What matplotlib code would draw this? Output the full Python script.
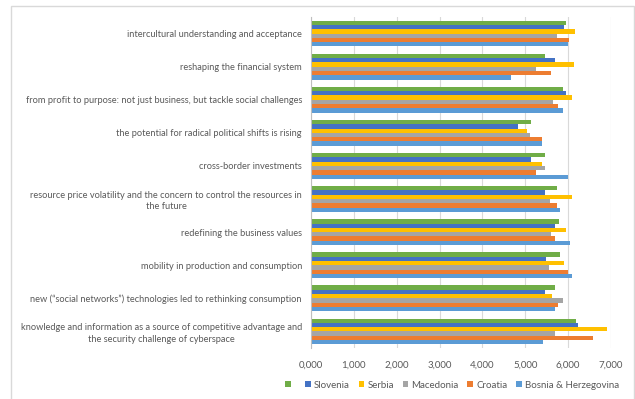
import numpy as np
import matplotlib
matplotlib.use("Agg")
import matplotlib.pyplot as plt
from matplotlib.patches import Rectangle

# Categories, top to bottom as shown
categories = [
    "intercultural understanding and acceptance",
    "reshaping the financial system",
    "from profit to purpose: not just business, but tackle social challenges",
    "the potential for radical political shifts is rising",
    "cross-border investments",
    "resource price volatility and the concern to control the resources in\nthe future",
    "redefining the business values",
    "mobility in production and consumption",
    "new (\u201csocial networks\u201d) technologies led to rethinking consumption",
    "knowledge and information as a source of competitive advantage and\nthe security challenge of cyberspace",
]

series_names = ["", "Slovenia", "Serbia", "Macedonia", "Croatia", "Bosnia & Herzegovina"]
colors = ["#70AD47", "#4472C4", "#FFC000", "#A5A5A5", "#ED7D31", "#5B9BD5"]

unnamed = [5.96, 5.47, 5.87, 5.14, 5.45, 5.73, 5.79, 5.80, 5.69, 6.18]
slovenia = [5.90, 5.70, 5.94, 4.83, 5.14, 5.47, 5.69, 5.49, 5.45, 6.23]
serbia = [6.17, 6.13, 6.09, 5.05, 5.40, 6.10, 5.96, 5.90, 5.63, 6.91]
macedonia = [5.73, 5.24, 5.65, 5.12, 5.45, 5.57, 5.59, 5.55, 5.88, 5.70]
croatia = [6.01, 5.61, 5.77, 5.40, 5.26, 5.73, 5.69, 6.00, 5.77, 6.57]
bosnia = [5.99, 4.66, 5.87, 5.38, 5.99, 5.80, 6.04, 6.10, 5.70, 5.42]

all_series = [unnamed, slovenia, serbia, macedonia, croatia, bosnia]

text_color = "#595959"
plt.rcParams["font.family"] = ["Lato", "DejaVu Sans"]

fig = plt.figure(figsize=(6.35, 3.99), dpi=100)
ax = fig.add_axes([311 / 635, 1 - 348 / 399, 300 / 635, 331 / 399])

n_cat = len(categories)
n_ser = len(all_series)
bar_h = 0.13
y_base = np.arange(n_cat)  # 0 = top category (axis inverted)

for i, (vals, name, col) in enumerate(zip(all_series, series_names, colors)):
    offs = (i - (n_ser - 1) / 2) * bar_h
    ax.barh(y_base + offs, vals, height=bar_h, color=col, label=name if name else " ")

ax.set_ylim(n_cat - 0.5, -0.5)
ax.set_xlim(0, 7)
ax.set_xticks(np.arange(0, 8, 1))
ax.set_xticklabels([f"{v},000" for v in range(8)])
ax.set_yticks(y_base)
ax.set_yticklabels(categories, ha="right", multialignment="center", linespacing=1.3)

ax.tick_params(axis="both", length=0, labelsize=7, colors=text_color)
ax.tick_params(axis="y", pad=6.5, labelsize=6.7)
ax.tick_params(axis="x", pad=9)
ax.grid(axis="x", color="#D9D9D9", linewidth=0.8)
ax.set_axisbelow(True)
for side in ["top", "right", "bottom"]:
    ax.spines[side].set_visible(False)
ax.spines["left"].set_color("#BFBFBF")
ax.spines["left"].set_linewidth(0.8)

# outer chart border
fig.add_artist(Rectangle((11 / 635, -0.1), 623 / 635, 1.1 - 6 / 399,
                         transform=fig.transFigure, fill=False,
                         edgecolor="#D9D9D9", linewidth=1.0, clip_on=False))

leg = fig.legend(loc="center", bbox_to_anchor=(452 / 635, 1 - 385 / 399), ncol=6,
                 frameon=False, fontsize=7, handlelength=0.6, handleheight=0.6,
                 handletextpad=0.3, columnspacing=0.9, labelcolor=text_color)

fig.savefig("out.png", dpi=100)
